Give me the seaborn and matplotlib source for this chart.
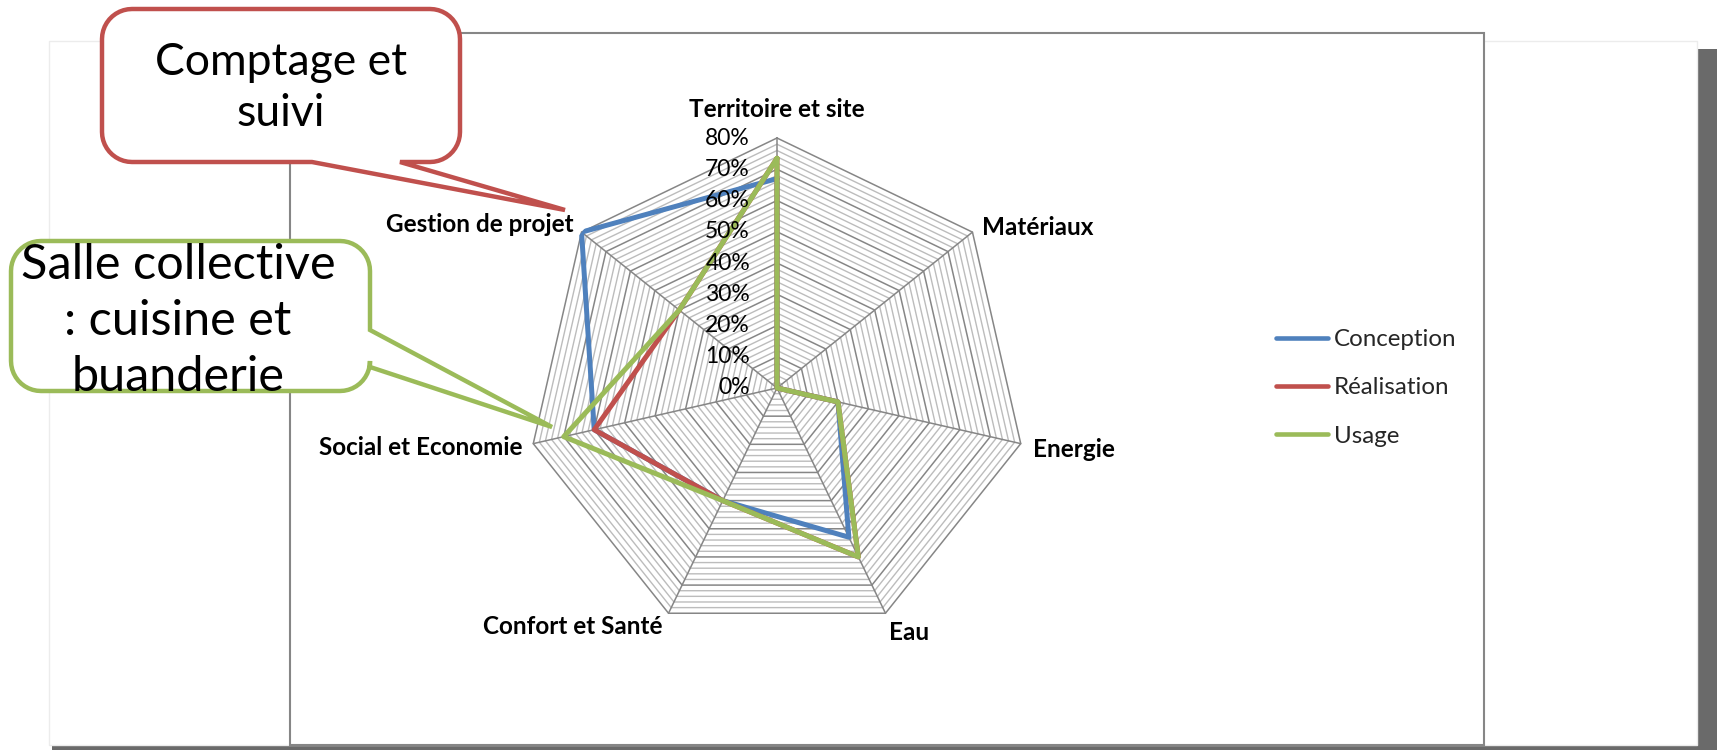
import numpy as np
import pandas as pd
import matplotlib
matplotlib.use("Agg")
import matplotlib.pyplot as plt
import seaborn as sns
from matplotlib.path import Path
from matplotlib.patches import PathPatch, Rectangle
from matplotlib.transforms import offset_copy

# ---- data -------------------------------------------------------------
categories = ["Territoire et site", "Matériaux", "Energie", "Eau",
              "Confort et Santé", "Social et Economie", "Gestion de projet"]
conception = [0.67, 0.00, 0.20, 0.53, 0.40, 0.60, 0.80]
realisation = [0.735, 0.00, 0.20, 0.60, 0.40, 0.60, 0.40]
usage = [0.735, 0.00, 0.20, 0.60, 0.40, 0.70, 0.40]
series_names = ["Conception", "Réalisation", "Usage"]
tick_values = [0.0, 0.1, 0.2, 0.3, 0.4, 0.5, 0.6, 0.7, 0.8]
tick_labels = ["0%", "10%", "20%", "30%", "40%", "50%", "60%", "70%", "80%"]
callout_red_text = "Comptage et\nsuivi"
callout_green_text = "Salle collective\n: cuisine et\nbuanderie"

# ---- style ------------------------------------------------------------
sns.set_theme(style="white")
plt.rcParams["font.family"] = ["Lato", "DejaVu Sans"]
colors = {"Conception": "#4F81BD", "Réalisation": "#C0504D", "Usage": "#9BBB59"}
MAJOR = "#868686"
MINOR = "#bcbcbc"

W, H = 1717, 750
fig = plt.figure(figsize=(W / 100, H / 100), dpi=100)
fig.patch.set_facecolor("white")

# page, drop shadow and chart frame (pixel coordinates, y downward)
bg = fig.add_axes([0, 0, 1, 1], zorder=0)
bg.set_xlim(0, W)
bg.set_ylim(H, 0)
bg.axis("off")
bg.add_patch(Rectangle((1697, 49), 20, 701, fc="#6a6a6a", ec="none"))
bg.add_patch(Rectangle((52, 745), 1665, 5, fc="#6a6a6a", ec="none"))
bg.add_patch(Rectangle((49, 41), 1648, 704, fc="white", ec="#ececec", lw=1))
bg.add_patch(Rectangle((290, 33), 1194, 712, fc="white", ec=MAJOR, lw=1.5))

# ---- radar ------------------------------------------------------------
cx, cy, rad = 777, 388, 250
ax = fig.add_axes([(cx - rad) / W, (H - cy - rad) / H, 2 * rad / W, 2 * rad / H],
                  projection="polar", zorder=2)
ax.set_facecolor("none")
ax.set_theta_zero_location("N")
ax.set_theta_direction(-1)
ax.set_ylim(0, 0.8)
ax.set_xticks([])
ax.set_yticks([])
ax.grid(False)
ax.spines["polar"].set_visible(False)

n = len(categories)
theta = np.linspace(0, 2 * np.pi, n, endpoint=False)
theta_closed = np.append(theta, 2 * np.pi)

# polygonal grid: minor every 2 %, major every 10 %
for k in range(1, 41):
    if k % 5:
        ax.plot(theta_closed, [k * 0.02] * (n + 1), color=MINOR, lw=1.0, zorder=1, clip_on=False)
for v in tick_values[1:]:
    ax.plot(theta_closed, [v] * (n + 1), color=MAJOR, lw=1.1, zorder=1.5, clip_on=False)
for t in theta:
    ax.plot([t, t], [0, 0.8], color=MAJOR, lw=1.1, zorder=1.5, clip_on=False)

# series
rows = []
for name, vals in zip(series_names, [conception, realisation, usage]):
    for t, v in zip(theta_closed, vals + vals[:1]):
        rows.append({"serie": name, "theta": t, "value": v})
df = pd.DataFrame(rows)
sns.lineplot(data=df, x="theta", y="value", hue="serie", hue_order=series_names,
             palette=colors, sort=False, estimator=None, linewidth=3.6, ax=ax)
for line in ax.get_lines()[-3:]:
    line.set_clip_on(False)
    line.set_zorder(3)
ax.set_xlabel("")
ax.set_ylabel("")

# radial tick labels, right-aligned left of the first spoke
tick_tr = offset_copy(ax.transData, fig=fig, x=-27, y=0, units="dots")
for v, lab in zip(tick_values, tick_labels):
    ax.text(0, v, lab, transform=tick_tr, ha="right", va="center",
            fontsize=16.5, color="black", zorder=4)

# category labels around the polygon
label_pos = [(0, 29, "center"), (10, 5, "left"), (12, -6, "left"), (4, -19, "left"),
             (-6, -13, "right"), (-11, -4, "right"), (-8, 8, "right")]
for t, lab, (dx, dy, ha) in zip(theta, categories, label_pos):
    tr = offset_copy(ax.transData, fig=fig, x=dx, y=dy, units="dots")
    ax.text(t, 0.8, lab, transform=tr, ha=ha, va="center", fontsize=17.5,
            fontweight="bold", color="black", zorder=4)

# legend
handles, labels = ax.get_legend_handles_labels()
if ax.get_legend() is not None:
    ax.get_legend().remove()
leg = fig.legend(handles, labels, loc="center left",
                 bbox_to_anchor=(1276 / W, (H - 388) / H), frameon=False,
                 fontsize=17.4, handlelength=2.15, handletextpad=0.25,
                 labelspacing=1.12, borderpad=0, borderaxespad=0)
for line in leg.get_lines():
    line.set_linewidth(3.3)
    line.set_solid_capstyle("round")

# ---- callouts ---------------------------------------------------------
top = fig.add_axes([0, 0, 1, 1], zorder=5)
top.set_xlim(0, W)
top.set_ylim(H, 0)
top.axis("off")
top.patch.set_alpha(0)


def arc(cxa, cya, r, a0, a1, steps=12):
    a = np.radians(np.linspace(a0, a1, steps))
    return list(zip(cxa + r * np.cos(a), cya + r * np.sin(a)))


def callout_path(x0, y0, x1, y1, r, side, base_a, base_b, tip):
    pts = [(x0 + r, y0), (x1 - r, y0)]
    pts += arc(x1 - r, y0 + r, r, -90, 0)
    if side == "right":
        pts += [(x1, base_a), tip, (x1, base_b)]
    pts += [(x1, y1 - r)]
    pts += arc(x1 - r, y1 - r, r, 0, 90)
    if side == "bottom":
        pts += [(base_b, y1), tip, (base_a, y1)]
    pts += [(x0 + r, y1)]
    pts += arc(x0 + r, y1 - r, r, 90, 180)
    pts += [(x0, y0 + r)]
    pts += arc(x0 + r, y0 + r, r, 180, 270)
    pts.append(pts[0])
    codes = [Path.MOVETO] + [Path.LINETO] * (len(pts) - 2) + [Path.CLOSEPOLY]
    return Path(pts, codes)


red_path = callout_path(102, 9, 460, 162, 30, "bottom", 312, 400, (565, 210))
top.add_patch(PathPatch(red_path, fc="white", ec="#C0504D", lw=3.2, joinstyle="miter"))
top.text(281, 88, callout_red_text, ha="center", va="center", fontsize=32,
         color="black", linespacing=1.33)

green_path = callout_path(11, 241, 370, 391, 30, "right", 330, 367, (552, 427))
top.add_patch(PathPatch(green_path, fc="white", ec="#9BBB59", lw=3.2, joinstyle="miter"))
top.text(178, 321, callout_green_text, ha="center", va="center", fontsize=35,
         color="black", linespacing=1.33)

fig.savefig("out.png", dpi=100, facecolor="white")
